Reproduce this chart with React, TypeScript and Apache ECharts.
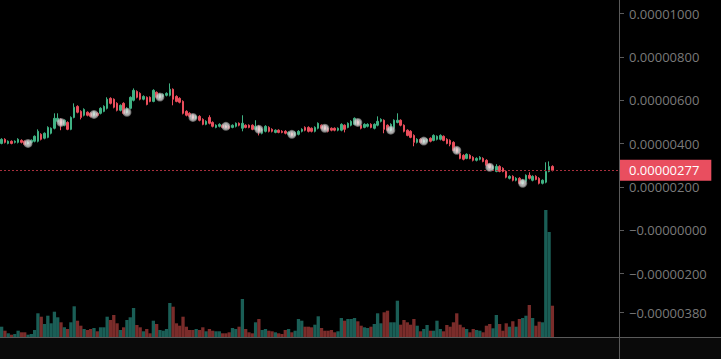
import React, { useEffect, useRef } from "react";
import * as echarts from "echarts";

// prices are kept in units of 1e-8 (so 277 means 0.00000277)
const SLOTS = 188;

const opens = [
  401, 420, 401, 411, 406, 406, 415, 411, 401, 406,
  411, 411, 443, 425, 429, 448, 471, 503, 512, 485,
  498, 466, 521, 572, 549, 531, 545, 540, 531, 540,
  540, 549, 563, 609, 605, 586, 554, 586, 545, 563,
  600, 641, 632, 605, 614, 614, 595, 637, 614, 618,
  623, 623, 651, 618, 609, 595, 549, 540, 531, 517,
  526, 512, 489, 521, 498, 475, 480, 485, 480, 480,
  475, 480, 494, 471, 485, 485, 485, 466, 480, 448,
  457, 475, 466, 452, 462, 457, 457, 443, 448, 438,
  443, 457, 475, 475, 471, 457, 471, 485, 480, 471,
  471, 471, 462, 462, 485, 475, 485, 489, 503, 485,
  475, 480, 489, 471, 485, 503, 508, 485, 462, 471,
  498, 508, 485, 462, 457, 438, 406, 420, 406, 411,
  425, 415, 420, 420, 434, 420, 415, 406, 378, 355,
  346, 332, 346, 337, 323, 328, 332, 323, 305, 282,
  272, 295, 286, 272, 240, 249, 231, 240, 217, 226,
  254, 231, 249, 240, 217, 222, 272, 295,
];
const closes = [
  420, 406, 411, 401, 411, 420, 406, 397, 406, 415,
  434, 457, 420, 448, 475, 471, 517, 517, 485, 508,
  466, 521, 568, 545, 521, 558, 531, 526, 545, 531,
  563, 572, 605, 586, 568, 554, 577, 540, 563, 614,
  646, 614, 605, 618, 581, 595, 646, 614, 628, 628,
  632, 651, 605, 595, 591, 540, 531, 526, 517, 526,
  508, 489, 503, 494, 480, 485, 489, 475, 475, 471,
  485, 494, 485, 494, 475, 475, 466, 480, 457, 466,
  480, 457, 457, 462, 452, 452, 448, 452, 438, 452,
  457, 466, 462, 457, 457, 475, 494, 471, 466, 457,
  462, 462, 471, 489, 466, 494, 503, 517, 489, 471,
  489, 489, 475, 489, 503, 512, 466, 462, 489, 508,
  508, 485, 457, 438, 429, 406, 420, 406, 415, 420,
  411, 438, 434, 438, 415, 401, 397, 369, 360, 332,
  328, 351, 332, 323, 332, 337, 318, 300, 291, 295,
  295, 272, 272, 245, 249, 231, 240, 217, 231, 254,
  240, 249, 235, 217, 231, 272, 295, 277,
];
const lows = [
  397, 401, 397, 397, 401, 401, 401, 392, 397, 401,
  406, 406, 415, 420, 425, 443, 466, 498, 462, 480,
  462, 462, 517, 540, 512, 526, 526, 521, 526, 526,
  535, 545, 558, 581, 563, 549, 549, 535, 540, 558,
  595, 609, 600, 600, 577, 591, 591, 609, 609, 614,
  618, 618, 577, 591, 586, 535, 526, 521, 512, 512,
  503, 485, 485, 489, 475, 471, 475, 471, 471, 466,
  471, 475, 480, 457, 471, 471, 462, 462, 438, 443,
  452, 452, 452, 448, 448, 448, 443, 438, 434, 434,
  438, 452, 457, 452, 452, 452, 466, 466, 462, 452,
  457, 457, 457, 457, 452, 471, 480, 485, 485, 466,
  471, 475, 471, 466, 480, 498, 448, 457, 457, 466,
  494, 480, 452, 434, 425, 388, 401, 401, 401, 406,
  406, 411, 415, 415, 411, 397, 388, 365, 355, 328,
  323, 328, 328, 318, 318, 323, 314, 295, 286, 277,
  268, 268, 268, 240, 235, 226, 226, 212, 212, 222,
  235, 226, 231, 212, 212, 217, 268, 272,
];
const highs = [
  425, 425, 415, 415, 415, 425, 420, 415, 411, 420,
  438, 466, 448, 452, 480, 475, 540, 540, 517, 512,
  503, 526, 586, 577, 554, 563, 549, 545, 549, 545,
  568, 577, 614, 614, 609, 591, 581, 591, 568, 618,
  655, 646, 637, 623, 618, 618, 651, 641, 632, 632,
  637, 678, 655, 623, 614, 600, 554, 545, 535, 531,
  531, 517, 508, 531, 503, 489, 494, 489, 485, 485,
  489, 498, 498, 531, 489, 489, 489, 508, 485, 471,
  485, 480, 471, 466, 466, 462, 462, 457, 452, 457,
  462, 471, 480, 480, 475, 480, 498, 489, 485, 475,
  475, 475, 475, 494, 489, 498, 508, 521, 508, 489,
  494, 494, 494, 494, 526, 517, 512, 489, 494, 512,
  540, 512, 489, 466, 462, 443, 425, 425, 420, 425,
  429, 443, 438, 443, 438, 425, 420, 411, 383, 360,
  351, 355, 351, 342, 337, 342, 337, 328, 309, 300,
  305, 300, 291, 277, 254, 254, 245, 245, 235, 258,
  268, 254, 254, 245, 235, 314, 318, 300,
];
const volumes = [
  11.3, 7.3, 4.7, 3.3, 4, 7.3, 5.7, 5.7, 3.3, 4,
  8, 24.7, 21.3, 14, 22.3, 14.7, 26.3, 20.7, 15.7, 10.7,
  9, 15.7, 31.7, 17.3, 12.3, 9, 8, 9, 10, 6.7,
  10.7, 10.7, 21.3, 18, 23, 14.7, 8, 10.7, 18, 20.7,
  30, 13, 10.7, 6.7, 9, 4.7, 17.3, 14, 8, 7.3,
  9, 35, 31.3, 14.7, 12.3, 21.3, 11.3, 8, 8, 9,
  8, 10.7, 6.7, 9, 7.3, 6.7, 6.7, 4.7, 4.7, 5.7,
  10, 9, 11.3, 39, 9, 5.7, 4.7, 15.7, 19, 8,
  9, 7.3, 6.7, 5.7, 4.7, 4, 8, 9, 5.7, 7.3,
  19, 17.3, 11.3, 11.3, 10.7, 13.3, 21.7, 10, 7.3, 7.3,
  8, 5.7, 6.7, 20, 17.3, 19, 19, 20, 16.7, 12.3,
  10.7, 10, 11.3, 14, 24.7, 14.7, 25.7, 27.3, 15.7, 15.7,
  37.3, 13.3, 18, 15.7, 13.3, 19, 12.3, 6.7, 9, 13,
  7.3, 7.3, 17.3, 9, 6.7, 13, 11.3, 15.7, 24.7, 13.3,
  10.7, 9, 5.7, 9, 8, 7.3, 5.7, 12.3, 14, 9.7,
  23, 14, 7.3, 14.7, 11.3, 16.7, 11.3, 19, 20, 22.3,
  33, 20, 12.3, 16.3, 15.7, 128, 106, 32.3,
];
const dotIdx = [8, 18, 28, 38, 48, 58, 68, 78, 88, 98, 108, 118, 128, 138, 148, 158];
const dotValues = [401, 498, 535, 545, 615, 521, 480, 466, 443, 471, 498, 462, 412, 369, 291, 217];
const lastPrice = 277;
const lastPriceLabel = "0.00000277";
const tickValues = [1000, 800, 600, 400, 200, 0, -200, -380];
const tickLabels = [
  "0.00001000", "0.00000800", "0.00000600", "0.00000400", "0.00000200",
  "\u22120.00000000", "\u22120.00000200", "\u22120.00000380",
];
const priceMin = -497;
const priceMax = 1063;
const volMax = 338;

const W = 721;
const H = 359;
const GRID_RIGHT = 101;
const GRID_BOTTOM = 21;

const UP = "#3fb183";
const DOWN = "#ea4e5c";
const VOL_UP = "#1a5e56";
const VOL_DOWN = "#7a2c2a";
const LINE = "#5a5a5a";
const TEXT = "#7a7a7a";
const FONT = "'Open Sans', 'Noto Sans', sans-serif";

export default function App() {
  const ref = useRef<HTMLDivElement>(null);
  useEffect(() => {
    document.body.style.margin = "0";
    document.body.style.background = "#000";
    if (!ref.current) return;
    const chart = echarts.init(ref.current, undefined, { renderer: "svg" });
    const cats = Array.from({ length: SLOTS }, (_, i) => String(i));
    const candleData = opens.map((o, i) => [o, closes[i], lows[i], highs[i]]);
    const volData = volumes.map((v, i) => ({
      value: v,
      itemStyle: { color: closes[i] >= opens[i] ? VOL_UP : VOL_DOWN },
    }));
    const dots = dotIdx.map((d, k) => [d, dotValues[k]]);
    const axisX = W - GRID_RIGHT - 0.5;
    const axisY = H - GRID_BOTTOM - 0.5;
    chart.setOption({
      animation: false,
      backgroundColor: "#000",
      grid: { left: 0, right: GRID_RIGHT, top: 0, bottom: GRID_BOTTOM, outerBoundsMode: "none" },
      xAxis: {
        type: "category",
        data: cats,
        boundaryGap: true,
        axisLine: { show: false },
        axisTick: { show: false },
        axisLabel: { show: false },
        splitLine: { show: false },
      },
      yAxis: [
        {
          type: "value",
          position: "right",
          min: priceMin,
          max: priceMax,
          splitLine: { show: false },
          axisLine: { show: false },
          axisTick: {
            show: true,
            length: 4,
            lineStyle: { color: LINE },
            customValues: tickValues,
          },
          axisLabel: {
            show: true,
            margin: 9,
            color: TEXT,
            fontSize: 13,
            fontFamily: FONT,
            customValues: tickValues,
            hideOverlap: false,
            formatter: (val: number) => {
              const k = tickValues.findIndex((t) => Math.abs(t - val) < 0.5);
              return k >= 0 ? tickLabels[k] : "";
            },
          },
        },
        { type: "value", min: 0, max: volMax, show: false },
      ],
      graphic: [
        { type: "rect", shape: { x: 0, y: H - GRID_BOTTOM, width: W, height: GRID_BOTTOM }, style: { fill: "#0a0a0a" }, z: -1 },
        { type: "line", shape: { x1: 0, y1: axisY, x2: W, y2: axisY }, style: { stroke: LINE, lineWidth: 1 }, z: 10 },
        { type: "line", shape: { x1: axisX, y1: 0, x2: axisX, y2: H }, style: { stroke: LINE, lineWidth: 1 }, z: 10 },
      ],
      series: [
        {
          type: "bar",
          yAxisIndex: 1,
          data: volData,
          barCategoryGap: "0%",
          barGap: "0%",
          z: 1,
        },
        {
          type: "candlestick",
          data: candleData,
          barWidth: 2,
          z: 3,
          itemStyle: {
            color: UP,
            color0: DOWN,
            borderColor: UP,
            borderColor0: DOWN,
            borderWidth: 1,
          },
          markLine: {
            silent: true,
            symbol: ["none", "none"],
            animation: false,
            lineStyle: { color: "#a8303d", type: [2, 2], width: 1 },
            label: {
              show: true,
              position: "end",
              distance: 0,
              formatter: lastPriceLabel,
              color: "#fff",
              backgroundColor: "#e94e5f",
              fontSize: 13,
              fontFamily: FONT,
              lineHeight: 17,
              padding: [2, 12, 2, 9],
            },
            data: [{ yAxis: lastPrice }],
          },
        },
        {
          type: "scatter",
          data: dots,
          symbol: "circle",
          symbolSize: 9,
          z: 5,
          itemStyle: {
            color: {
              type: "radial",
              x: 0.5,
              y: 0.5,
              r: 0.5,
              colorStops: [
                { offset: 0, color: "#f4f4f4" },
                { offset: 0.65, color: "#d2d2d2" },
                { offset: 1, color: "rgba(150,150,150,0.7)" },
              ],
            },
          },
        },
      ],
    });
    return () => chart.dispose();
  }, []);
  return <div ref={ref} style={{ position: "fixed", left: 0, top: 0, width: W, height: H }} />;
}
